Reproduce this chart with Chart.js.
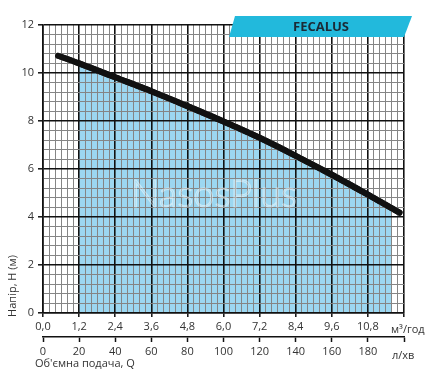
<!DOCTYPE html>
<html>
<head>
<meta charset="utf-8">
<script src="https://cdn.jsdelivr.net/npm/chart.js@4.4.1/dist/chart.umd.min.js"></script>
<style>
  html, body { margin: 0; padding: 0; background: #ffffff; }
  #wrap { width: 429px; height: 391px; }
</style>
</head>
<body>
<div id="wrap"><canvas id="c" width="429" height="391"></canvas></div>
<script>
// ---- data ----
const flowQ = [0.5, 1.2, 2.4, 3.6, 4.8, 6.0, 7.2, 8.4, 9.6, 10.8, 11.85];          // m3/h
const headH = [10.72, 10.4, 9.82, 9.24, 8.62, 7.98, 7.3, 6.55, 5.76, 4.93, 4.18];  // m
const workQ = [1.2, 2.4, 3.6, 4.8, 6.0, 7.2, 8.4, 9.6, 10.8, 11.57];               // working range
const workH = [10.4, 9.82, 9.24, 8.62, 7.98, 7.3, 6.55, 5.76, 4.93, 4.38];
const qTickLabels = ['0,0', '1,2', '2,4', '3,6', '4,8', '6,0', '7,2', '8,4', '9,6', '10,8'];
const lpmTickLabels = ['0', '20', '40', '60', '80', '100', '120', '140', '160', '180'];
const hTickLabels = ['0', '2', '4', '6', '8', '10', '12'];
const modelName = 'FECALUS';
const watermark = 'NasosPlus';
const yTitle = 'Напір, Н (м)';
const xTitle = "Об'ємна подача, Q";
const unitM3 = 'м³/год';
const unitLpm = 'л/хв';

const FONT = '"Open Sans", "DejaVu Sans", sans-serif';
const MAJOR = '#111111';
const MINOR = '#858585';

const curvePts = flowQ.map((q, i) => ({ x: q, y: headH[i] }));
const workPts = workQ.map((q, i) => ({ x: q, y: workH[i] }));

const overlay = {
  id: 'overlay',
  afterDraw(chart) {
    const ctx = chart.ctx;
    const area = chart.chartArea;
    // redraw the pump curve above the grid
    const meta = chart.getDatasetMeta(0);
    ctx.save();
    meta.dataset.draw(ctx, area);
    ctx.restore();

    // watermark
    ctx.save();
    ctx.font = '300 38px Lato, "Open Sans", sans-serif';
    ctx.textAlign = 'center';
    ctx.textBaseline = 'alphabetic';
    ctx.fillStyle = 'rgba(255,255,255,0.1)';
    ctx.fillText(watermark, 214, 207);
    ctx.strokeStyle = 'rgba(255,255,255,0.45)';
    ctx.lineWidth = 1;
    ctx.strokeText(watermark, 214, 207);
    ctx.restore();

    // banner
    ctx.save();
    ctx.beginPath();
    ctx.moveTo(235, 16);
    ctx.lineTo(412, 16);
    ctx.lineTo(404, 37);
    ctx.lineTo(229, 37);
    ctx.closePath();
    ctx.fillStyle = '#22b9dc';
    ctx.fill();
    ctx.font = 'bold 13px ' + FONT;
    ctx.fillStyle = '#1b2a36';
    ctx.textAlign = 'center';
    ctx.textBaseline = 'middle';
    ctx.fillText(modelName, 321, 27);
    ctx.restore();

    // axis titles and units
    ctx.save();
    ctx.fillStyle = '#333333';
    ctx.font = '11px ' + FONT;
    ctx.textBaseline = 'middle';
    ctx.textAlign = 'left';
    ctx.fillText(unitM3, 391, 330);
    ctx.fillText(unitLpm, 392, 356);
    ctx.fillText(xTitle, 35, 364);
    ctx.translate(13, 286);
    ctx.rotate(-Math.PI / 2);
    ctx.textAlign = 'center';
    ctx.fillText(yTitle, 0, 0);
    ctx.restore();
  }
};

new Chart(document.getElementById('c'), {
  type: 'line',
  data: {
    datasets: [
      {
        data: curvePts,
        borderColor: '#111111',
        borderWidth: 6,
        borderCapStyle: 'round',
        borderJoinStyle: 'round',
        pointRadius: 0,
        cubicInterpolationMode: 'monotone',
        fill: false,
        order: 1
      },
      {
        data: workPts,
        borderWidth: 0,
        borderColor: 'rgba(0,0,0,0)',
        backgroundColor: '#9cd7f1',
        pointRadius: 0,
        cubicInterpolationMode: 'monotone',
        fill: 'origin',
        order: 2
      }
    ]
  },
  options: {
    responsive: false,
    animation: false,
    devicePixelRatio: 1,
    layout: { padding: { left: 0, top: 25, right: 25, bottom: 0 } },
    plugins: { legend: { display: false }, tooltip: { enabled: false } },
    scales: {
      x: {
        type: 'linear',
        position: 'bottom',
        min: 0, max: 12,
        weight: 0,
        afterFit: (s) => { s.height = 24; },
        ticks: {
          stepSize: 0.2,
          autoSkip: false,
          maxRotation: 0,
          padding: 3,
          color: '#333333',
          font: { family: FONT, size: 11 },
          callback: (v, i) => (i % 6 === 0 && qTickLabels[i / 6] !== undefined) ? qTickLabels[i / 6] : ''
        },
        grid: {
          z: 1,
          color: (c) => c.index % 6 === 0 ? MAJOR : MINOR,
          lineWidth: (c) => c.index % 6 === 0 ? 1.6 : 1,
          tickColor: (c) => c.index % 6 === 0 ? MAJOR : 'rgba(0,0,0,0)',
          tickLength: 4,
          tickWidth: 1.5
        },
        border: { display: true, color: MAJOR, width: 1.6, z: 1 }
      },
      x2: {
        type: 'linear',
        position: 'bottom',
        min: 0, max: 200,
        weight: 1,
        afterFit: (s) => { s.height = 54; },
        ticks: {
          stepSize: 20,
          autoSkip: false,
          maxRotation: 0,
          padding: 3,
          color: '#333333',
          font: { family: FONT, size: 11 },
          callback: (v, i) => lpmTickLabels[i] !== undefined ? lpmTickLabels[i] : ''
        },
        grid: {
          drawOnChartArea: false,
          drawTicks: true,
          tickLength: 5,
          tickColor: MAJOR,
          tickWidth: 1.5
        },
        border: { display: true, color: MAJOR, width: 1.6 }
      },
      y: {
        type: 'linear',
        min: 0, max: 12,
        afterFit: (s) => { s.width = 43; },
        ticks: {
          stepSize: 0.4,
          autoSkip: false,
          padding: 4,
          color: '#333333',
          font: { family: FONT, size: 11 },
          callback: (v, i) => (i % 5 === 0 && hTickLabels[i / 5] !== undefined) ? hTickLabels[i / 5] : ''
        },
        grid: {
          z: 1,
          color: (c) => c.index % 5 === 0 ? MAJOR : MINOR,
          lineWidth: (c) => c.index % 5 === 0 ? 1.6 : 1,
          tickColor: (c) => c.index % 5 === 0 ? MAJOR : 'rgba(0,0,0,0)',
          tickLength: 5,
          tickWidth: 1.5
        },
        border: { display: true, color: MAJOR, width: 1.6, z: 1 }
      }
    }
  },
  plugins: [overlay]
});
</script>
</body>
</html>
